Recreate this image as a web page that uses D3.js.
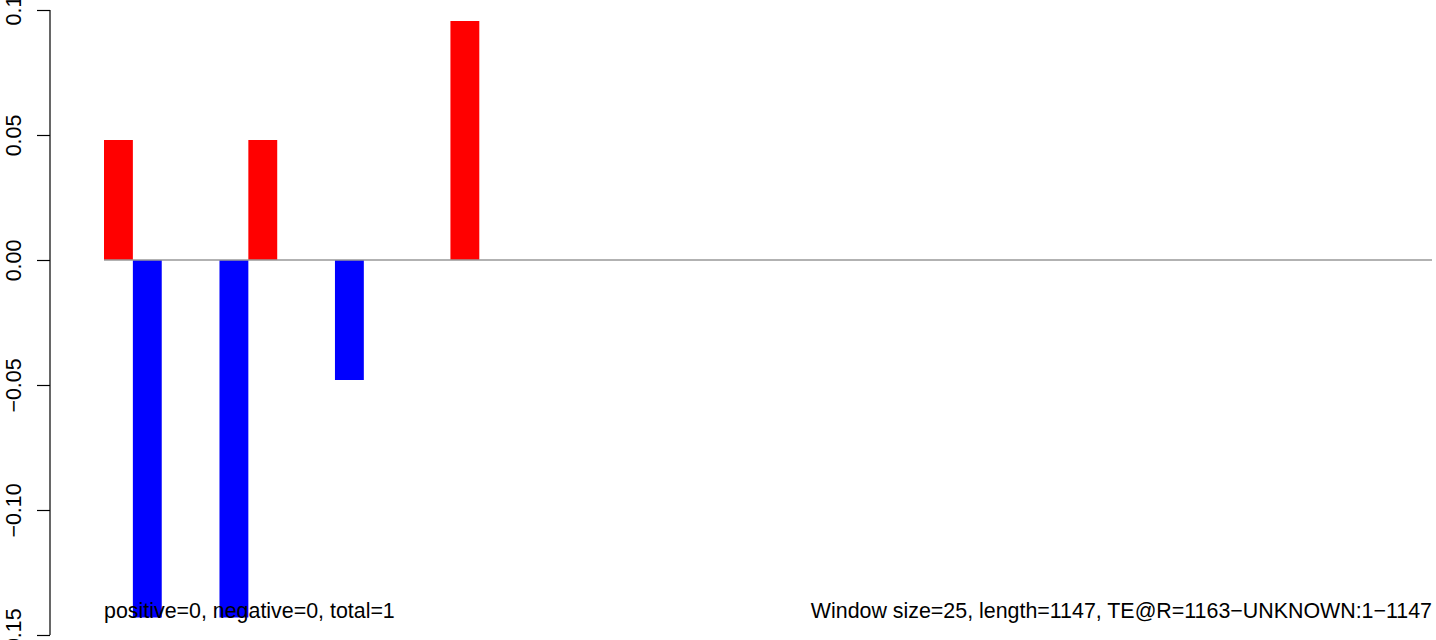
<!DOCTYPE html>
<html>
<head>
<meta charset="utf-8">
<script src="https://cdn.jsdelivr.net/npm/d3@7"></script>
<style>
  html, body { margin: 0; padding: 0; background: #fff; }
  svg { display: block; }
  text { font-family: "Liberation Sans", Arial, Helvetica, sans-serif; }
</style>
</head>
<body>
<svg id="chart" width="1436" height="640"></svg>
<script>
// ---- data ----
const windowSize = 25;
const seqLength = 1147;
const windowIndex = [0, 1, 4, 5, 8, 12];
const windowValue = [0.048, -0.143, -0.143, 0.048, -0.048, 0.0956];
const yTicks = [0.1, 0.05, 0.00, -0.05, -0.10, -0.15];
const yTickLabels = ["0.1", "0.05", "0.00", "\u22120.05", "\u22120.10", "\u22120.15"];
const leftNote = "positive=0, negative=0, total=1";
const rightNote = "Window size=25, length=1147, TE@R=1163\u2212UNKNOWN:1\u22121147";

const nWindows = Math.ceil(seqLength / windowSize);
const FS = 21.4;

const svg = d3.select("#chart");

const x = d3.scaleLinear().domain([0, nWindows]).range([104, 1432]);
const y = d3.scaleLinear().domain([-0.15, 0.1]).range([635, 10]);

const bars = windowIndex.map((w, i) => ({ w, v: windowValue[i] }));

// bars
svg.append("g").selectAll("rect")
  .data(bars)
  .join("rect")
  .attr("x", d => x(d.w))
  .attr("width", d => x(d.w + 1) - x(d.w))
  .attr("y", d => Math.min(y(d.v), y(0)))
  .attr("height", d => Math.abs(y(d.v) - y(0)))
  .attr("fill", d => d.v >= 0 ? "#ff0000" : "#0000ff");

// zero line
svg.append("line")
  .attr("x1", x(0)).attr("x2", x(nWindows))
  .attr("y1", y(0)).attr("y2", y(0))
  .attr("stroke", "#999999")
  .attr("stroke-width", 1.5);

// y axis
const yAxis = d3.axisLeft(y)
  .tickValues(yTicks)
  .tickSize(13)
  .tickPadding(16)
  .tickFormat((d, i) => yTickLabels[i]);

const ax = svg.append("g")
  .attr("transform", "translate(50,0)")
  .call(yAxis);
ax.select(".domain").attr("d", `M0,${y(0.1)}V${y(-0.15)}`).attr("stroke", "#000").attr("stroke-width", 1.2);
ax.selectAll(".tick line").attr("stroke", "#000").attr("stroke-width", 1.2);
ax.selectAll(".tick text")
  .attr("font-size", FS)
  .attr("fill", "#000")
  .attr("font-family", "Liberation Sans, Arial, sans-serif")
  .attr("x", null).attr("dy", null).attr("y", 0)
  .attr("text-anchor", "middle")
  .attr("transform", "translate(-29,0) rotate(-90)");

// notes
svg.append("text")
  .attr("x", 104).attr("y", 618)
  .attr("font-size", FS)
  .attr("fill", "#000")
  .text(leftNote);

svg.append("text")
  .attr("x", 1432).attr("y", 618)
  .attr("font-size", FS)
  .attr("text-anchor", "end")
  .attr("fill", "#000")
  .text(rightNote);
</script>
</body>
</html>
